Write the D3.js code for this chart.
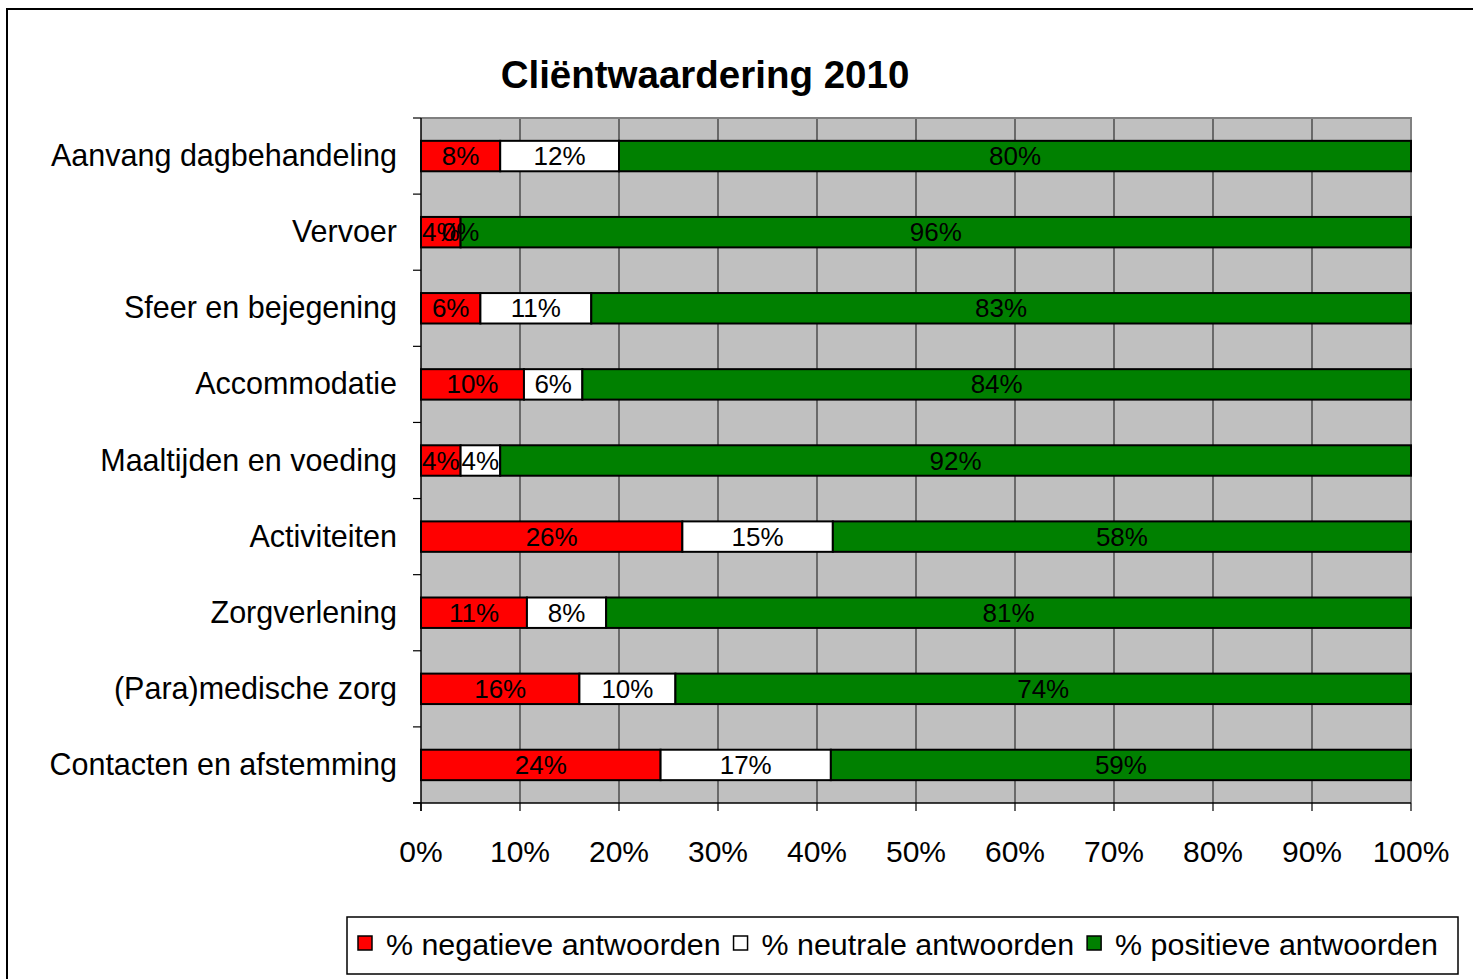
<!DOCTYPE html>
<html><head><meta charset="utf-8">
<script src="https://cdn.jsdelivr.net/npm/d3@7"></script>
<style>body{margin:0;background:#fff;} svg{display:block;font-family:"Liberation Sans",Arial,sans-serif;}</style>
</head><body>
<svg id="c" width="1473" height="979"></svg>
<script>
const title = "Cliëntwaardering 2010";
const categories = ["Aanvang dagbehandeling","Vervoer","Sfeer en bejegening","Accommodatie","Maaltijden en voeding","Activiteiten","Zorgverlening","(Para)medische zorg","Contacten en afstemming"];
const negative = [8, 4, 6, 10.4, 4, 26.4, 10.7, 16, 24.2];
const neutral  = [12, 0, 11.2, 5.9, 4, 15.2, 8, 9.7, 17.2];
const positive = [80, 96, 82.8, 83.7, 92, 58.4, 81.3, 74.3, 58.6];
const seriesNames = ["% negatieve antwoorden","% neutrale antwoorden","% positieve antwoorden"];
const seriesColors = ["#FF0000","#FFFFFF","#008000"];
const xTicks = [0,10,20,30,40,50,60,70,80,90,100];

const svg = d3.select("#c");
const L = 421, R = 1411, T = 118, B = 803;

// outer border
svg.append("rect").attr("x",7).attr("y",9).attr("width",1520).attr("height",1020)
  .attr("fill","#fff").attr("stroke","#000").attr("stroke-width",2);

svg.append("text").attr("x",705).attr("y",88).attr("text-anchor","middle")
  .attr("font-size",38.5).attr("font-weight","bold").text(title);

const x = d3.scaleLinear().domain([0,100]).range([L,R]);
const y = d3.scaleBand().domain(categories).range([T,B]).paddingInner(0.6).paddingOuter(0.3);

svg.append("rect").attr("x",L).attr("y",T).attr("width",R-L).attr("height",B-T).attr("fill","#C0C0C0");
// grid
svg.append("g").selectAll("line").data(xTicks.slice(1,-1)).join("line")
  .attr("x1",d=>x(d)).attr("x2",d=>x(d)).attr("y1",T).attr("y2",B)
  .attr("stroke","#303030").attr("stroke-width",1.2);
// top/right border gray
svg.append("path").attr("d",`M${L},${T}H${R}V${B}`).attr("fill","none").attr("stroke","#808080").attr("stroke-width",2);

// stacked data
const data = categories.map((c,i)=>({cat:c, vals:[negative[i],neutral[i],positive[i]]}));
const stack = d3.stack().keys([0,1,2]).value((d,k)=>d.vals[k]);
const stacked = stack(data);
const gBars = svg.append("g");
stacked.forEach((layer,k)=>{
  const g = gBars.append("g");
  g.selectAll("rect").data(layer).join("rect")
    .attr("x",d=>x(d[0])).attr("width",d=>x(d[1])-x(d[0]))
    .attr("y",d=>y(d.data.cat)).attr("height",y.bandwidth())
    .attr("fill",seriesColors[k]).attr("stroke","#000").attr("stroke-width",2);
});
stacked.forEach((layer,k)=>{
  gBars.append("g").selectAll("text").data(layer).join("text")
    .attr("x",d=>(x(d[0])+x(d[1]))/2).attr("y",d=>y(d.data.cat)+y.bandwidth()/2+9)
    .attr("text-anchor","middle").attr("font-size",26).attr("fill","#000")
    .text(d=>Math.round(d.data.vals[k])+"%");
});

// axes
svg.append("line").attr("x1",L).attr("x2",L).attr("y1",T).attr("y2",B+8).attr("stroke","#000").attr("stroke-width",1.5);
svg.append("line").attr("x1",L-8).attr("x2",R).attr("y1",B).attr("y2",B).attr("stroke","#000").attr("stroke-width",1.5);
const step = y.step();
svg.append("g").selectAll("line").data(d3.range(categories.length+1)).join("line")
  .attr("x1",L-8).attr("x2",L).attr("y1",i=>T+i*step).attr("y2",i=>T+i*step)
  .attr("stroke","#000").attr("stroke-width",1.2);
svg.append("g").selectAll("line").data(xTicks).join("line")
  .attr("x1",d=>x(d)).attr("x2",d=>x(d)).attr("y1",B).attr("y2",B+8)
  .attr("stroke","#000").attr("stroke-width",1.2);
svg.append("g").selectAll("text").data(xTicks).join("text")
  .attr("x",d=>x(d)).attr("y",862).attr("text-anchor","middle").attr("font-size",30)
  .text(d=>d+"%");
svg.append("g").selectAll("text").data(categories).join("text")
  .attr("x",397).attr("y",d=>y(d)+y.bandwidth()/2+10).attr("text-anchor","end").attr("font-size",30.5)
  .text(d=>d);

// legend
svg.append("rect").attr("x",347).attr("y",917).attr("width",1111).attr("height",57)
  .attr("fill","#fff").attr("stroke","#000").attr("stroke-width",1.5);
let lx = 358;
seriesNames.forEach((n,k)=>{
  svg.append("rect").attr("x",lx).attr("y",936).attr("width",14).attr("height",14)
    .attr("fill",seriesColors[k]).attr("stroke","#000").attr("stroke-width",1.5);
  const t = svg.append("text").attr("x",lx+28).attr("y",955).attr("font-size",30.4).text(n);
  lx += 28 + t.node().getComputedTextLength() + 13;
});
</script>
</body></html>
